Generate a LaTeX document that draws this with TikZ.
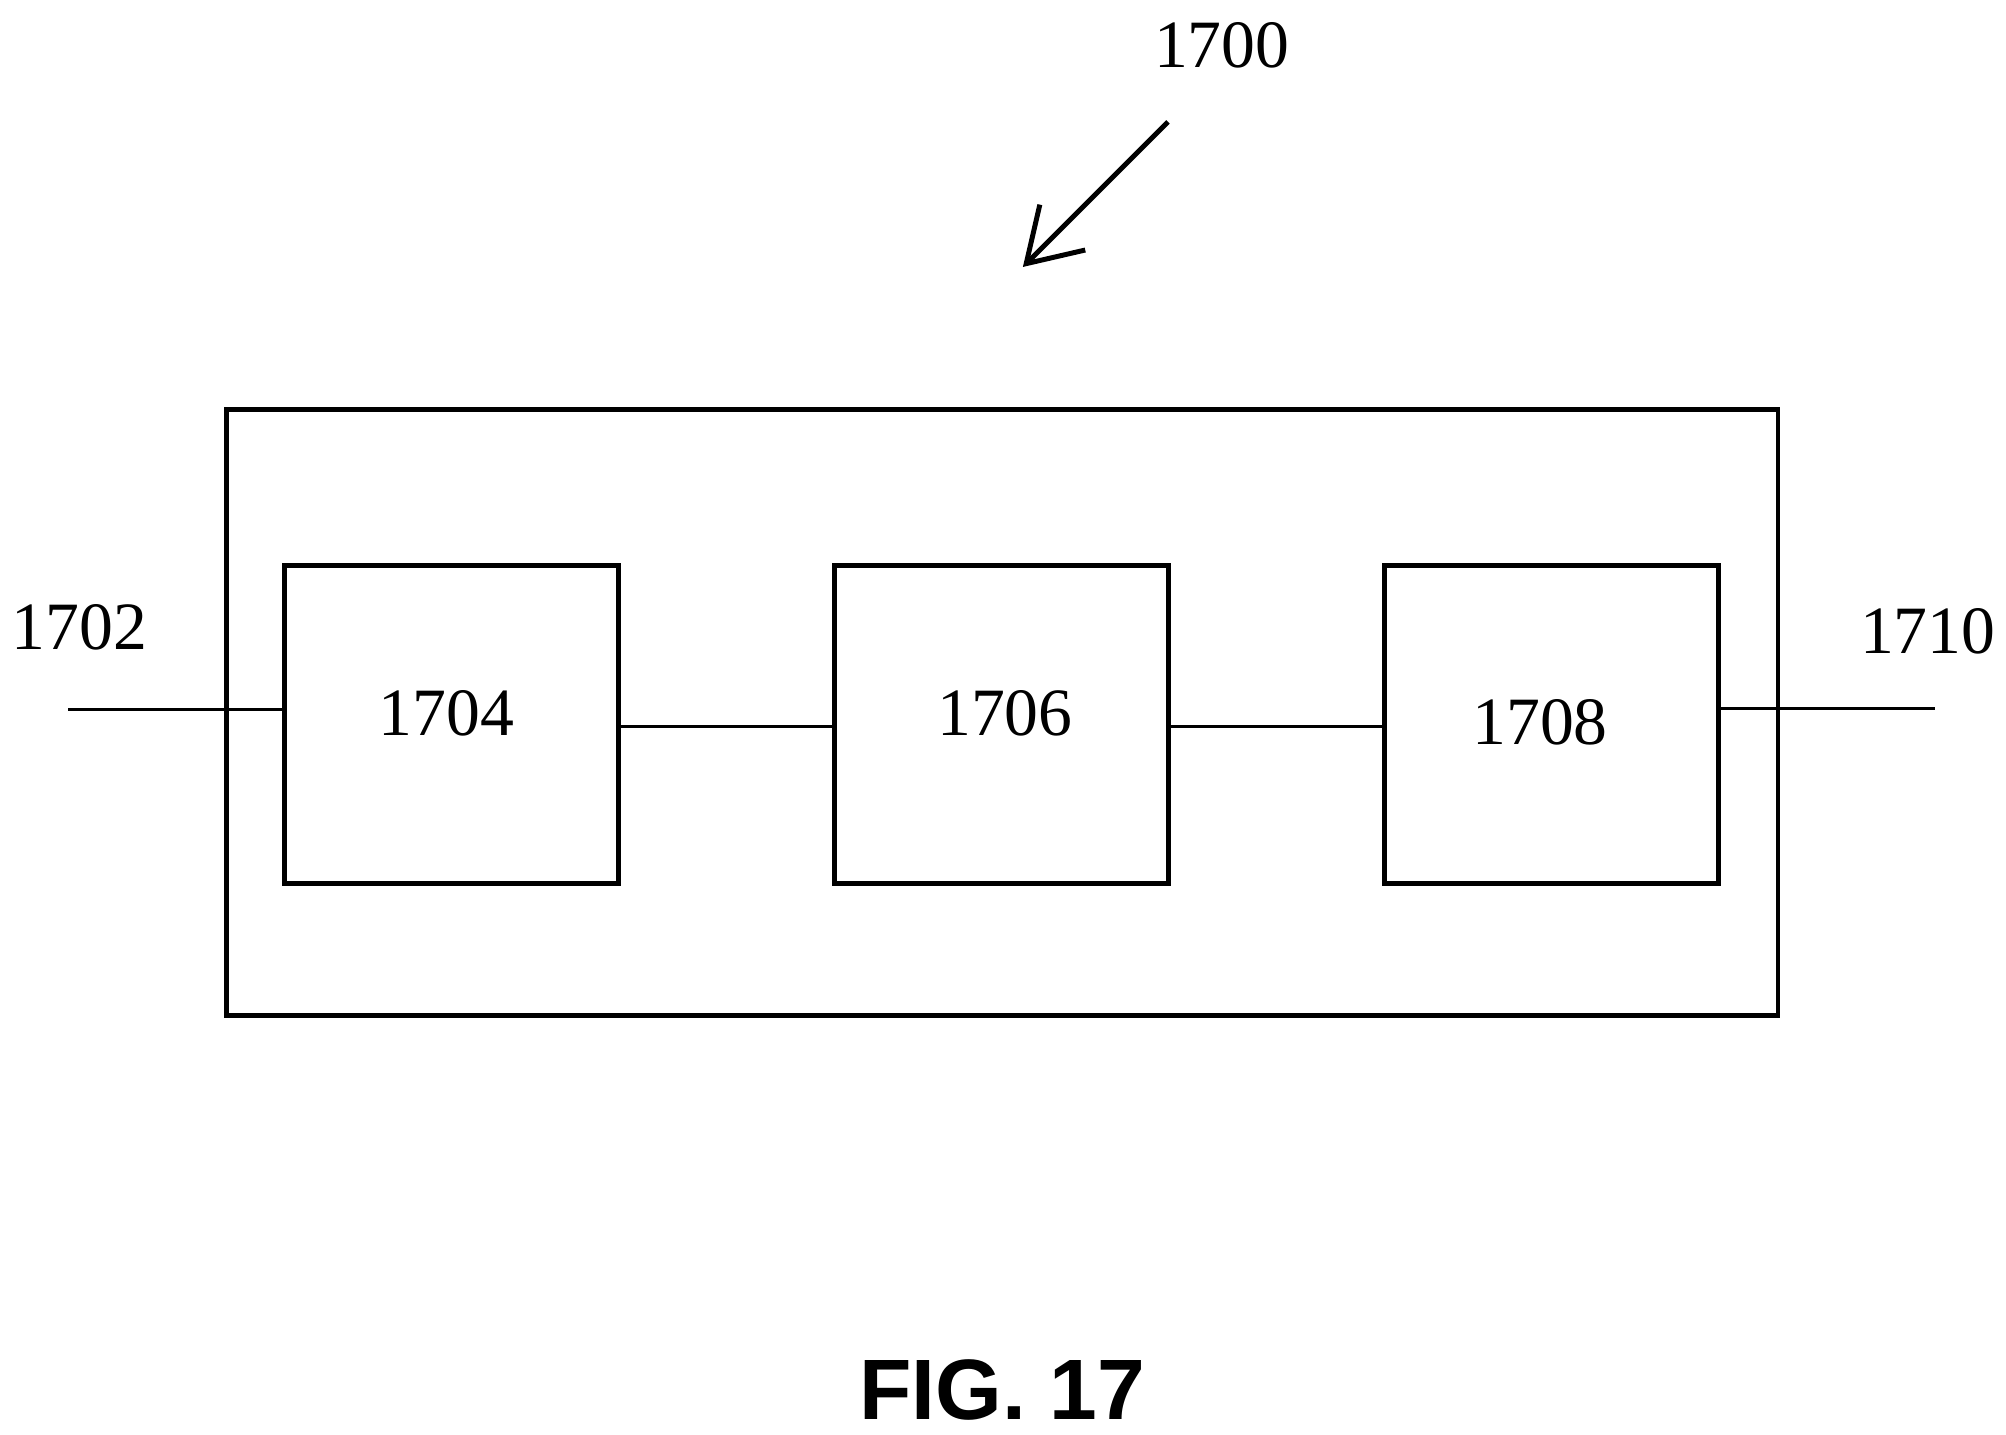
\documentclass[tikz,border=0pt]{standalone}
\usepackage{fontspec}
\setmainfont{Liberation Serif}
\setsansfont{Liberation Sans}
\usetikzlibrary{arrows.meta}
\begin{document}
\begin{tikzpicture}[x=0.01cm,y=-0.01cm,
  box/.style={draw,line width=1.1pt,minimum width=2.6cm,minimum height=2.47cm,inner sep=0pt,font=\fontsize{15}{18}\selectfont},
  lbl/.style={font=\fontsize{15}{18}\selectfont},
  wire/.style={line width=0.6pt}]
\useasboundingbox (0,0) rectangle (1563,1118);
\node[draw,line width=1.1pt,minimum width=12.08cm,minimum height=4.72cm] (outer) at (781,555) {};
\node[box] (b1) at (352,564.5) {};
\node[lbl] at (348,556) {1704};
\node[box] (b2) at (780.5,564.5) {};
\node[lbl] at (783,556) {1706};
\node[box] (b3) at (1209,564.5) {};
\node[lbl] at (1200,563) {1708};
\coordinate (in) at (53,553);
\coordinate (out) at (1508,552);
\draw[wire] (in) -- (in -| b1.west);
\draw[wire] (b1.east |- 0,566) -- (b2.west |- 0,566);
\draw[wire] (b2.east |- 0,566) -- (b3.west |- 0,566);
\draw[wire] (out -| b3.east) -- (out);
\node[lbl] (l1702) at (62,489) {1702};
\node[lbl] (l1710) at (1502,492) {1710};
\node[lbl] (l1700) at (952,35) {1700};
\coordinate (as) at (910,95);
\coordinate (ae) at (797,208);
\draw[line width=1.1pt,-{Straight Barb[length=4mm,width=5mm]}] (as) -- (ae);
\node[font=\sffamily\bfseries\fontsize{19}{22}\selectfont] (fig) at (781,1083) {FIG. 17};
\end{tikzpicture}
\end{document}
